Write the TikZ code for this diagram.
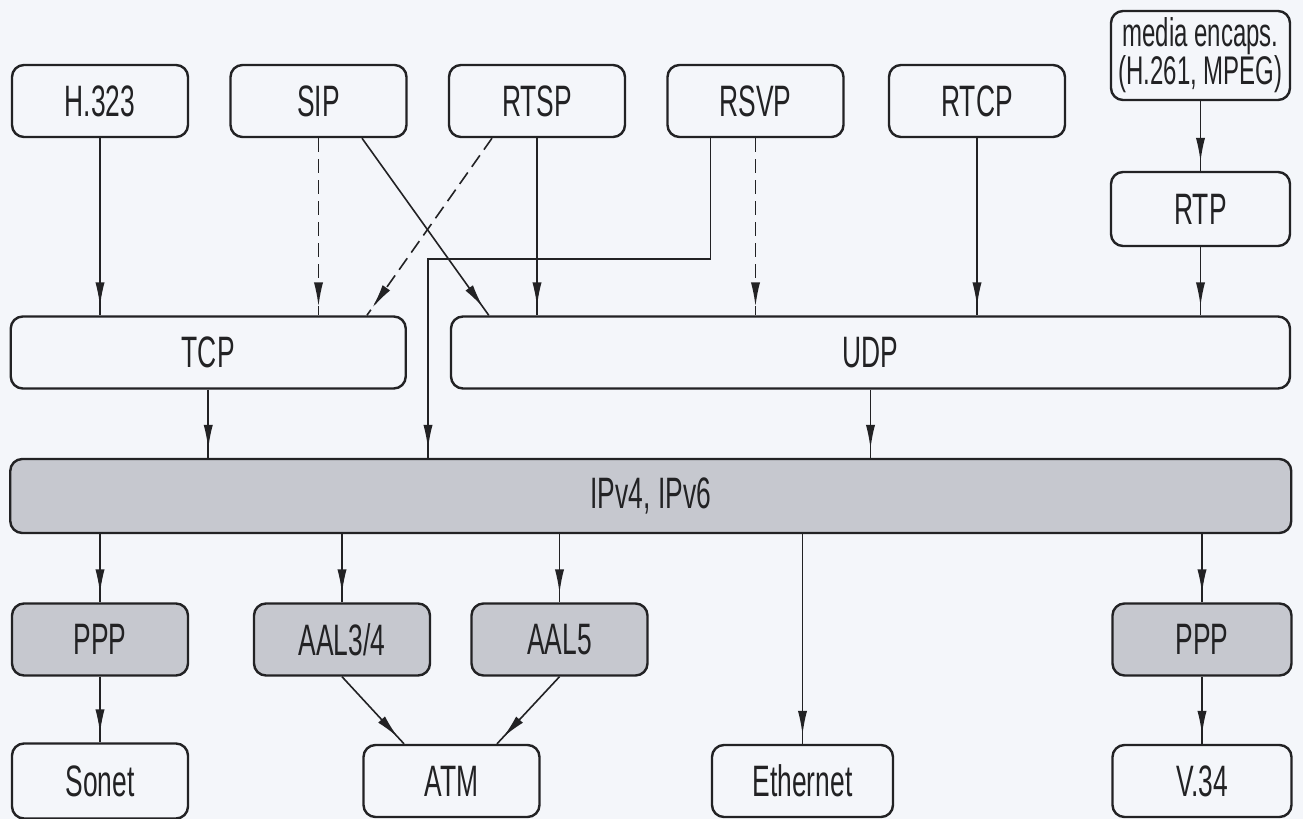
\documentclass[tikz,border=0pt]{standalone}
\usepackage{fontspec}
\setmainfont{Liberation Sans}[FakeStretch=0.6]
\usepackage{xcolor}
\usetikzlibrary{arrows.meta, positioning, calc, decorations.markings}
\definecolor{paper}{RGB}{244,246,250}
\definecolor{ink}{RGB}{34,34,36}
\definecolor{slate}{RGB}{198,200,207}
\tikzstyle{proto} = [rectangle, rounded corners=6pt, minimum width=88pt, minimum height=36pt,
                     inner sep=2pt, text centered, draw=ink, fill=paper, text=ink, line width=1.2pt,
                     font=\fontsize{22pt}{24pt}\selectfont]
\tikzstyle{shaded} = [proto, fill=slate]
\tikzstyle{arrow} = [draw=ink, line width=0.8pt, postaction={decorate},
                     decoration={markings, mark=at position -4.5pt with {\arrow{Latex[length=12pt,width=4.6pt]}}}]
\tikzstyle{dasharrow} = [arrow, dash pattern=on 7pt off 3.5pt]

\begin{document}
\begin{tikzpicture}[x=0.5pt, y=-0.5pt]
    \fill[paper] (0,0) rectangle (1303,819);
    \useasboundingbox (0,0) rectangle (1303,819);

    % applications
    \node[proto] (h323) at (100,101) {H.323};
    \node[proto] (sip) at (318.5,101) {SIP};
    \node[proto] (rtsp) at (537,101) {RTSP};
    \node[proto] (rsvp) at (755.5,101) {RSVP};
    \node[proto] (rtcp) at (977,101) {RTCP};
    \node[proto, minimum width=89.5pt, minimum height=44.5pt, align=center,
          font=\fontsize{20pt}{19pt}\selectfont] (media) at (1200.5,55.5) {media encaps.\\(H.261, MPEG)};
    \node[proto, minimum width=89.5pt, minimum height=37pt] (rtp) at (1200.5,209) {RTP};

    % transport and network
    \node[proto, minimum width=197.5pt] (tcp) at (208.25,352.5) {TCP};
    \node[proto, minimum width=419.5pt] (udp) at (870.5,352.5) {UDP};
    \node[shaded, minimum width=640.5pt, minimum height=37pt] (ip) at (650.75,496) {IPv4, IPv6};

    % links
    \node[shaded] (pppa) at (100,639.5) {PPP};
    \node[shaded] (aal34) at (342,639.5) {AAL3/4};
    \node[shaded] (aal5) at (559.5,639.5) {AAL5};
    \node[shaded, minimum width=89.5pt] (pppb) at (1202,639.5) {PPP};
    \node[proto, minimum height=37.5pt] (sonet) at (100,781) {Sonet};
    \node[proto] (atm) at (451.5,781) {ATM};
    \node[proto, minimum width=90.5pt] (eth) at (802.5,781) {Ethernet};
    \node[proto, minimum width=89.5pt] (vdsl) at (1202,781) {V.34};

    \draw[arrow] (h323.south) -- (h323.south |- tcp.north);
    \draw[dasharrow] (sip.south) -- (sip.south |- tcp.north);
    \draw[arrow] ([xshift=21.75pt]sip.south) -- ([xshift=19.5pt]udp.north west);
    \draw[dasharrow] ([xshift=-22.5pt]rtsp.south) -- ([xshift=-20pt]tcp.north east);
    \draw[arrow] (rtsp.south) -- (rtsp.south |- udp.north);
    \coordinate (bend) at (428,259);
    \draw[arrow] ([xshift=-22.5pt]rsvp.south) |- (bend) -- (bend |- ip.north);
    \draw[dasharrow] (rsvp.south) -- (rsvp.south |- udp.north);
    \draw[arrow] (rtcp.south) -- (rtcp.south |- udp.north);
    \draw[arrow] (media) -- (rtp);
    \draw[arrow] (rtp.south) -- (rtp.south |- udp.north);
    \draw[arrow] (tcp.south) -- (tcp.south |- ip.north);
    \draw[arrow] (udp.south) -- (udp.south |- ip.north);

    \foreach \dst in {pppa, aal34, aal5, eth, pppb}
        \draw[arrow] (\dst.north |- ip.south) -- (\dst.north);
    \draw[arrow] (pppa) -- (sonet);
    \draw[arrow] (pppb) -- (vdsl);
    \draw[arrow] (aal34.south) -- ([xshift=-23.75pt]atm.north);
    \draw[arrow] (aal5.south) -- ([xshift=22.75pt]atm.north);
\end{tikzpicture}
\end{document}
